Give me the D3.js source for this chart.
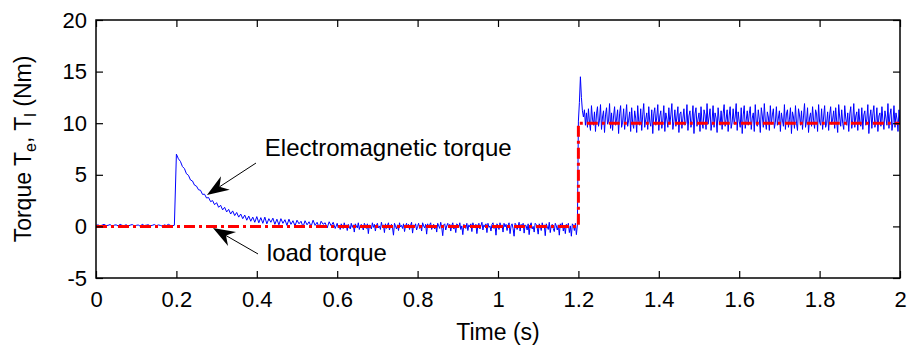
<!DOCTYPE html>
<html lang="en">
<head>
<meta charset="utf-8">
<title>torque step response</title>
<script src="https://cdnjs.cloudflare.com/ajax/libs/d3/7.8.5/d3.min.js"></script>
<style>
  body { margin: 0; background: #fff; }
  text { font-family: "Liberation Sans", Arial, sans-serif; fill: #000; }
</style>
</head>
<body>
<script>
// electromagnetic torque Te in pieces
// 0 .. 0.195 s, no load (step 0.005)
var teIdle = [0.10,0.15,0.05,0.12,0.20,0.08,0.10,0.18,0.02,0.12,
  0.15,0.05,0.20,0.10,0.08,0.16,0.04,0.12,0.18,0.06,
  0.10,0.14,0.02,0.20,0.08,0.12,0.16,0.05,0.10,0.18,
  0.06,0.14,0.10,0.02,0.15,0.08,0.20,0.10,0.05,0.12];
// 0.2 .. 0.395 s, start-up transient (step 0.005)
var teStart = [7.00,6.55,6.30,5.80,5.60,5.10,4.95,4.50,4.40,4.00,
  3.90,3.55,3.50,3.10,3.12,2.75,2.80,2.40,2.50,2.10,
  2.30,1.85,2.05,1.60,1.85,1.40,1.65,1.20,1.50,1.05,
  1.35,0.90,1.20,0.75,1.10,0.60,1.00,0.50,0.90,0.40];
// 0.4 .. 0.595 s (step 0.005)
var teSettle = [0.95,0.35,0.85,0.30,0.90,0.25,0.75,0.40,0.80,0.20,
  0.70,0.15,0.75,0.30,0.65,0.10,0.70,0.20,0.55,0.05,
  0.60,0.25,0.50,-0.05,0.55,0.15,0.45,0.00,0.60,0.10,
  0.40,-0.10,0.50,0.20,0.35,-0.15,0.45,0.05,0.40,-0.20];
// 0.6 .. 1.1975 s (step 0.0025)
var teSteady = [0.30,-0.15,0.10,-0.30,0.25,0.05,-0.20,0.35,-0.05,0.15,-0.40,0.20,
  0.00,-0.25,0.30,-0.10,0.15,-0.55,0.25,0.05,-0.15,0.35,-0.30,0.10,
  0.20,-0.05,-0.35,0.30,0.10,-0.20,0.25,-0.70,0.15,0.00,-0.25,0.35,
  -0.10,0.20,-0.45,0.10,0.30,-0.15,0.05,-0.30,0.40,-0.05,0.15,-0.60,
  0.25,-0.20,0.10,0.35,-0.35,0.00,0.20,-0.10,-0.85,0.30,0.05,-0.25,
  0.15,-0.40,0.35,-0.05,0.10,-0.20,0.25,-0.50,0.05,0.30,-0.15,0.20,
  -0.30,0.10,0.40,-0.65,0.15,-0.05,0.25,-0.35,0.00,0.30,-0.20,0.10,
  -0.45,0.35,0.05,-0.15,0.20,-0.75,0.25,-0.10,0.15,0.35,-0.30,0.00,
  0.20,-0.25,0.10,-0.55,0.30,0.05,-0.20,0.40,-0.10,-0.90,0.15,0.25,
  -0.35,0.05,0.30,-0.15,0.20,-0.45,0.10,0.35,-0.25,0.00,-0.60,0.25,
  0.15,-0.10,0.35,-0.30,0.05,-0.80,0.20,0.10,-0.20,0.30,-0.40,0.15,
  -0.05,0.25,-0.50,0.35,0.00,-0.15,0.20,-0.70,0.10,0.30,-0.25,0.05,
  0.40,-0.35,0.15,-0.05,0.25,-0.60,0.30,-0.10,0.05,-0.45,0.20,0.35,
  -0.20,0.10,-0.85,0.25,0.00,-0.30,0.35,-0.15,0.15,-0.55,0.30,-0.05,
  0.20,-0.40,0.10,0.35,-0.70,0.05,0.25,-0.20,-0.95,0.30,0.15,-0.30,
  0.00,0.40,-0.45,0.20,-0.10,0.30,-0.65,0.15,0.05,-0.35,0.25,-0.80,
  0.10,0.35,-0.25,0.00,-0.55,0.30,0.20,-0.15,-0.75,0.25,0.05,-0.40,
  0.35,-0.10,0.15,-0.90,0.25,0.00,-0.30,0.40,-0.60,0.10,0.20,-0.20,
  -0.50,0.30,0.05,-0.35,0.15,-0.85,0.25,-0.05,0.35,-0.45,0.10,-0.70,
  0.20,-0.15,0.30,-0.60,0.05,-0.95,0.25,0.10,-0.40,0.30,-0.80,0.15];
// 1.2 .. 2.0 s, loaded (step 0.0025)
var teLoaded = [10.2,12.0,14.5,12.5,11.2,10.6,11.3,9.8,11.0,
  9.6,11.4,10.1,9.3,11.7,10.4,9.8,11.1,9.2,10.9,11.6,9.7,
  10.3,11.8,9.4,10.6,11.2,9.1,10.8,11.5,9.9,10.2,11.9,9.5,
  11.0,9.3,10.7,11.6,9.8,10.4,11.3,9.0,10.9,11.7,9.6,10.1,
  11.4,9.4,10.6,11.8,9.7,10.3,11.1,9.2,11.5,10.0,9.5,11.2,
  10.5,9.1,11.7,10.2,9.8,11.4,9.3,10.8,11.9,9.6,10.4,11.0,
  9.4,11.6,10.1,9.7,11.3,9.0,10.9,11.5,9.8,10.6,11.8,9.3,
  10.7,11.2,9.5,10.3,11.7,9.2,11.0,10.4,9.6,11.5,9.9,10.8,
  11.9,9.4,10.2,11.3,9.7,10.6,11.6,9.1,10.9,11.1,9.5,10.5,
  11.4,9.8,10.0,11.8,9.3,10.7,11.2,9.6,10.3,11.7,9.0,10.9,
  11.5,9.7,10.4,11.0,9.2,11.6,10.1,9.5,11.3,10.8,9.4,11.9,
  9.9,10.6,11.4,9.3,10.2,11.7,9.6,11.0,10.5,9.1,11.5,10.3,
  9.8,11.2,9.4,10.9,11.8,9.7,10.4,11.3,9.2,10.7,11.6,9.5,
  10.1,11.4,9.9,10.6,11.9,9.3,11.1,10.2,9.6,11.5,9.0,10.8,
  11.7,9.5,10.3,11.2,9.8,10.9,11.6,9.4,10.5,11.0,9.2,11.8,
  10.0,9.7,11.3,10.4,9.1,11.5,10.7,9.6,11.9,10.2,9.4,11.1,
  10.6,9.3,11.7,9.9,10.8,11.4,9.5,10.1,11.6,9.8,10.5,11.2,
  9.2,11.0,10.3,9.7,11.8,9.4,10.9,11.3,9.6,10.4,11.5,9.0,
  11.1,10.6,9.5,11.7,10.0,9.3,11.4,10.8,9.8,11.2,9.4,10.7,
  11.9,9.6,10.2,11.5,9.1,10.5,11.0,9.7,11.6,10.3,9.5,11.3,
  10.9,9.2,11.8,10.1,9.8,11.4,9.4,10.6,11.7,9.6,10.0,11.1,
  9.3,10.8,11.6,9.9,10.4,11.2,9.5,11.5,10.2,9.1,11.8,10.6,
  9.7,11.3,10.0,9.4,11.7,10.5,9.8,11.0,9.2,10.9,11.6,9.5,
  10.3,11.9,9.6,10.7,11.1,9.3,11.4,10.1,9.7,11.5,9.4,10.8,
  11.2,9.8,10.4,11.8,9.0,10.6,11.3,9.5,10.9,11.7,9.6,10.2,
  11.5,9.2,10.7,11.0,9.7,11.6,10.3,9.4,11.2,10.5,9.8,11.9,
  9.5,10.8,11.4,9.3,10.1,11.7,9.6,11.0,10.4,9.2,11.3,10.0];

// where each piece starts and its sample step (s)
var segStart = [0, 0.2, 0.4, 0.6, 1.2];
var segStep = [0.005, 0.005, 0.005, 0.0025, 0.0025];

// load torque Tl (reference step)
var loadTime = [0, 1.2, 1.2, 2];
var loadValue = [0, 0, 10, 10];

// ticks
var xTicks = [0, 0.2, 0.4, 0.6, 0.8, 1, 1.2, 1.4, 1.6, 1.8, 2];
var yTicks = [-5, 0, 5, 10, 15, 20];

// annotations, positions in data units
var notes = [
  {label: "Electromagnetic torque", at: [0.420, 6.82], tail: [0.398, 6.14], tip: [0.276, 3.04]},
  {label: "load torque", at: [0.425, -3.35], tail: [0.403, -2.67], tip: [0.291, -0.16]}
];

var w = 908, h = 347;
// plot box (window.top is reserved, so use m* names)
var mLeft = 96, mRight = 900, mTop = 20, mBottom = 278;

var te = [];
[teIdle, teStart, teSettle, teSteady, teLoaded].forEach(function(seg, s) {
  seg.forEach(function(v, i) {
    te.push([segStart[s] + i * segStep[s], v]);
  });
});

var svg = d3.select("body").append("svg")
  .attr("width", w)
  .attr("height", h);

var x = d3.scaleLinear().domain([0, 2]).range([mLeft, mRight]);
var y = d3.scaleLinear().domain([-5, 20]).range([mBottom, mTop]);

// clip to the axes box
svg.append("clipPath").attr("id", "box")
  .append("rect")
  .attr("x", mLeft).attr("y", mTop)
  .attr("width", mRight - mLeft).attr("height", mBottom - mTop);

// blue Te trace
var teLine = d3.line()
  .x(function(d) { return x(d[0]); })
  .y(function(d) { return y(d[1]); });

svg.append("path")
  .datum(te)
  .attr("clip-path", "url(#box)")
  .attr("fill", "none")
  .attr("stroke", "#0000ff")
  .attr("stroke-width", 1)
  .attr("d", teLine);

// red dash-dot load torque
var loadLine = d3.line()
  .x(function(d) { return x(d); })
  .y(function(d, i) { return y(loadValue[i]); });

svg.append("path")
  .datum(loadTime)
  .attr("fill", "none")
  .attr("stroke", "#ff0000")
  .attr("stroke-width", 3)
  .attr("stroke-dasharray", "11,4,3,4")
  .attr("d", loadLine);

// axes: ticks inward on all four sides
var font = 22;
var fmt = function(d) { return String(d); };
var bottomAxis = d3.axisBottom(x).tickValues(xTicks).tickFormat(fmt).tickSizeInner(-7).tickSizeOuter(0).tickPadding(13);
var topAxis = d3.axisTop(x).tickValues(xTicks).tickFormat("").tickSizeInner(-7).tickSizeOuter(0);
var leftAxis = d3.axisLeft(y).tickValues(yTicks).tickFormat(fmt).tickSizeInner(-7).tickSizeOuter(0).tickPadding(9);
var rightAxis = d3.axisRight(y).tickValues(yTicks).tickFormat("").tickSizeInner(-7).tickSizeOuter(0);

function styleAxis(g) {
  g.select(".domain").remove();
  g.selectAll("line").attr("stroke", "#000").attr("stroke-width", 1.2);
  g.selectAll("text")
    .style("font-family", '"Liberation Sans", Arial, sans-serif')
    .style("font-size", font + "px")
    .attr("fill", "#000");
}

svg.append("g").attr("transform", "translate(0," + mBottom + ")").call(bottomAxis).call(styleAxis);
svg.append("g").attr("transform", "translate(0," + mTop + ")").call(topAxis).call(styleAxis);
svg.append("g").attr("transform", "translate(" + mLeft + ",0)").call(leftAxis).call(styleAxis);
svg.append("g").attr("transform", "translate(" + mRight + ",0)").call(rightAxis).call(styleAxis);

// frame
svg.append("rect")
  .attr("x", mLeft).attr("y", mTop)
  .attr("width", mRight - mLeft).attr("height", mBottom - mTop)
  .attr("fill", "none")
  .attr("stroke", "#000")
  .attr("stroke-width", 1.5);

// axis labels
svg.append("text")
  .attr("x", (mLeft + mRight) / 2)
  .attr("y", 340)
  .attr("text-anchor", "middle")
  .style("font-size", "23px")
  .text("Time (s)");

var yl = svg.append("text")
  .attr("transform", "translate(31," + ((mTop + mBottom) / 2) + ") rotate(-90)")
  .attr("text-anchor", "middle")
  .style("font-size", "23px");
yl.append("tspan").text("Torque T");
yl.append("tspan").attr("baseline-shift", "-30%").style("font-size", "16px").text("e");
yl.append("tspan").text(", T");
yl.append("tspan").attr("baseline-shift", "-30%").style("font-size", "16px").text("l");
yl.append("tspan").text(" (Nm)");

// annotations with notched arrowheads
notes.forEach(function(n) {
  svg.append("text")
    .attr("x", x(n.at[0]))
    .attr("y", y(n.at[1]))
    .style("font-size", "24px")
    .text(n.label);

  var x1 = x(n.tail[0]), y1 = y(n.tail[1]);
  var x2 = x(n.tip[0]), y2 = y(n.tip[1]);
  var ang = Math.atan2(y2 - y1, x2 - x1);
  var len = 22, half = 8, notch = 15;
  var ux = Math.cos(ang), uy = Math.sin(ang);
  var bx = x2 - ux * len, by = y2 - uy * len;
  var nx = x2 - ux * notch, ny = y2 - uy * notch;

  svg.append("line")
    .attr("x1", x1).attr("y1", y1)
    .attr("x2", nx).attr("y2", ny)
    .attr("stroke", "#000")
    .attr("stroke-width", 1);

  var pts = [
    [x2, y2],
    [bx - uy * half, by + ux * half],
    [nx, ny],
    [bx + uy * half, by - ux * half]
  ];
  svg.append("polygon")
    .attr("points", pts.map(function(p) { return p.join(","); }).join(" "))
    .attr("fill", "#000");
});
</script>
</body>
</html>
